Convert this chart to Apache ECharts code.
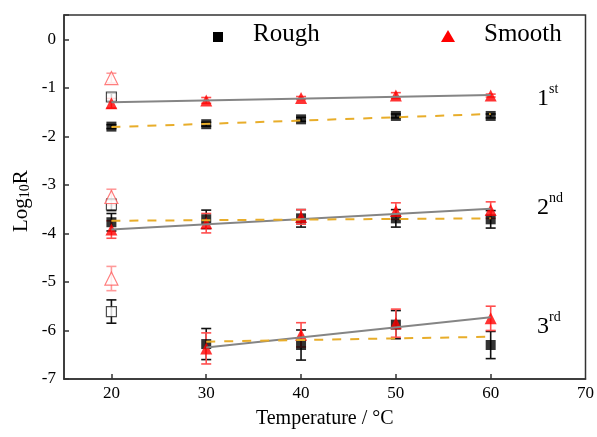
<!DOCTYPE html>
<html>
<head>
<meta charset="utf-8">
<script src="https://cdn.jsdelivr.net/npm/echarts@6/dist/echarts.min.js"></script>
<style>
  html, body { margin: 0; padding: 0; background: #fff; }
  #main { width: 597px; height: 437px; }
</style>
</head>
<body>
<div id="main"></div>
<script>
// 温度
var temps = [20, 30, 40, 50, 60];
var xTickLabels = [20, 30, 40, 50, 60, 70];

// Rough (实心方块), 三组
var rough1 = [-1.80, -1.75, -1.65, -1.58, -1.58];
var rough1Err = [0.04, 0.04, 0.04, 0.04, 0.04];
var rough2 = [-3.77, -3.71, -3.69, -3.69, -3.71];
var rough2Err = [0.18, 0.19, 0.18, 0.18, 0.18];
var rough3 = [null, -6.28, -6.30, -5.88, -6.30];
var rough3Err = [0, 0.32, 0.31, 0.29, 0.28];

// Smooth (实心三角)
var smooth1 = [-1.32, -1.26, -1.21, -1.16, -1.16];
var smooth1Err = [0.10, 0.06, 0.03, 0.06, 0.03];
var smooth2 = [-3.92, -3.79, -3.66, -3.54, -3.52];
var smooth2Err = [0.18, 0.20, 0.15, 0.17, 0.17];
var smooth3 = [null, -6.37, -6.09, -5.85, -5.75];
var smooth3Err = [0, 0.32, 0.25, 0.29, 0.25];

// 20°C 空心点 (1st, 2nd, 3rd)
var roughOpen = [-1.19, -3.41, -5.61];
var roughOpenErr = [0.08, 0.12, 0.24];
var smoothOpen = [-0.80, -3.25, -4.93];
var smoothOpenErr = [0.10, 0.16, 0.25];

// 拟合线端点
var fitSmooth = [
    [[20, -1.30], [60, -1.15]],
    [[20, -3.92], [60, -3.49]],
    [[30, -6.35], [60, -5.73]]
];
var fitRough = [
    [[20, -1.81], [60, -1.54]],
    [[20, -3.74], [60, -3.69]],
    [[30, -6.23], [60, -6.13]]
];

var legendNames = ['Rough', 'Smooth'];
var groupLabels = [['1', 'st'], ['2', 'nd'], ['3', 'rd']];
var groupLabelY = [-1.2, -3.45, -5.9];

var serif = '"Liberation Serif", "DejaVu Serif", serif';

function pts(vals, errs) {
    var out = [];
    for (var i = 0; i < temps.length; i++) {
        if (vals[i] !== null) out.push([temps[i], vals[i], errs[i]]);
    }
    return out;
}
function openPts(vals, errs) {
    return vals.map(function (v, i) { return [20, v, errs[i]]; });
}

// 误差棒
function errBar(color) {
    return function (params, api) {
        var x = api.value(0), y = api.value(1), e = api.value(2);
        var t = api.coord([x, y + e]);
        var b = api.coord([x, y - e]);
        var hw = 5;
        var st = { stroke: color, lineWidth: 1.6 };
        return {
            type: 'group',
            children: [
                { type: 'line', shape: { x1: t[0], y1: t[1], x2: b[0], y2: b[1] }, style: st },
                { type: 'line', shape: { x1: t[0] - hw, y1: t[1], x2: t[0] + hw, y2: t[1] }, style: st },
                { type: 'line', shape: { x1: b[0] - hw, y1: b[1], x2: b[0] + hw, y2: b[1] }, style: st }
            ]
        };
    };
}

var series = [];
function addErr(data, color) {
    series.push({
        type: 'custom', renderItem: errBar(color), data: data,
        encode: { x: 0, y: 1 }, z: 2, silent: true
    });
}
function addPts(data, symbol, size, style) {
    series.push({
        type: 'scatter', symbol: symbol, symbolSize: size, data: data,
        itemStyle: style, z: 3, silent: true
    });
}

var r1 = pts(rough1, rough1Err), r2 = pts(rough2, rough2Err), r3 = pts(rough3, rough3Err);
var s1 = pts(smooth1, smooth1Err), s2 = pts(smooth2, smooth2Err), s3 = pts(smooth3, smooth3Err);
var rOpen = openPts(roughOpen, roughOpenErr), sOpen = openPts(smoothOpen, smoothOpenErr);

addErr(sOpen, '#ff9a9a');
addErr(rOpen, '#111');
addErr(r1.concat(r2, r3), '#111');
addErr(s1.concat(s2, s3), '#ff4d4d');

addPts(rOpen, 'rect', 10, { color: '#fff', borderColor: '#222', borderWidth: 1.2 });
addPts(sOpen, 'triangle', 13, { color: '#fff', borderColor: '#ff5c5c', borderWidth: 1.2 });
addPts(r1.concat(r2, r3), 'rect', 10, { color: '#000' });
addPts(s1.concat(s2, s3), 'triangle', 12, { color: '#ff0000' });

fitSmooth.forEach(function (d) {
    series.push({
        type: 'line', data: d, symbol: 'none', z: 4, silent: true,
        lineStyle: { color: '#858585', width: 2 }
    });
});
fitRough.forEach(function (d) {
    series.push({
        type: 'line', data: d, symbol: 'none', z: 4, silent: true,
        lineStyle: { color: '#e8ad2a', width: 2, type: [9, 9] }
    });
});

var myChart = echarts.init(document.getElementById('main'));

var grid = { left: 64, right: 11, top: 15, bottom: 58 };
var plotH = 437 - grid.top - grid.bottom;

var graphics = [
    // legend
    { type: 'rect', left: 213, top: 32, shape: { width: 10, height: 10 }, style: { fill: '#000' } },
    { type: 'text', left: 253, top: 22, style: { text: legendNames[0], font: '25px ' + serif, fill: '#000' } },
    { type: 'polygon', shape: { points: [[448, 30], [455, 42], [441, 42]] }, style: { fill: '#ff0000' } },
    { type: 'text', left: 484, top: 22, style: { text: legendNames[1], font: '25px ' + serif, fill: '#000' } },
    // y axis name
    {
        type: 'text', x: 11, y: 232, rotation: Math.PI / 2,
        style: {
            text: '{a|Log}{s|10}{a|R}',
            rich: {
                a: { fontSize: 21, fontFamily: serif, fill: '#000', verticalAlign: 'top' },
                s: { fontSize: 14, fontFamily: serif, fill: '#000', verticalAlign: 'bottom' }
            }
        }
    }
];
groupLabels.forEach(function (g, i) {
    var y = grid.top + plotH * (0.5 - groupLabelY[i]) / 7.5;
    graphics.push({
        type: 'text', left: 537, top: y - 15,
        style: {
            text: '{n|' + g[0] + '}{s|' + g[1] + '}',
            rich: {
                n: { fontSize: 24, fontFamily: serif, fill: '#000', verticalAlign: 'bottom', lineHeight: 28 },
                s: { fontSize: 14, fontFamily: serif, fill: '#000', verticalAlign: 'top', lineHeight: 28 }
            }
        }
    });
});

var option = {
    animation: false,
    backgroundColor: '#fff',
    grid: {
        left: grid.left, right: grid.right, top: grid.top, bottom: grid.bottom,
        show: true, borderColor: '#333', borderWidth: 1.5, backgroundColor: 'transparent'
    },
    xAxis: {
        type: 'value', min: 15, max: 70,
        name: 'Temperature / °C', nameLocation: 'middle', nameGap: 30,
        nameTextStyle: { fontFamily: serif, fontSize: 20, color: '#000' },
        axisLine: { onZero: false, lineStyle: { color: '#333', width: 1.5 } },
        axisTick: { inside: true, length: 5, customValues: temps, lineStyle: { color: '#333', width: 1.5 } },
        axisLabel: {
            fontFamily: serif, fontSize: 17, color: '#000', margin: 6,
            customValues: xTickLabels
        },
        splitLine: { show: false }
    },
    yAxis: {
        type: 'value', min: -7, max: 0.5, interval: 1,
        axisLine: { onZero: false, lineStyle: { color: '#333', width: 1.5 } },
        axisTick: { inside: true, length: 5, lineStyle: { color: '#333', width: 1.5 } },
        axisLabel: {
            fontFamily: serif, fontSize: 17, color: '#000', margin: 8,
            formatter: function (v) { return Number.isInteger(v) ? v : ''; }
        },
        splitLine: { show: false }
    },
    graphic: graphics,
    series: series
};

myChart.setOption(option, true);
</script>
</body>
</html>
